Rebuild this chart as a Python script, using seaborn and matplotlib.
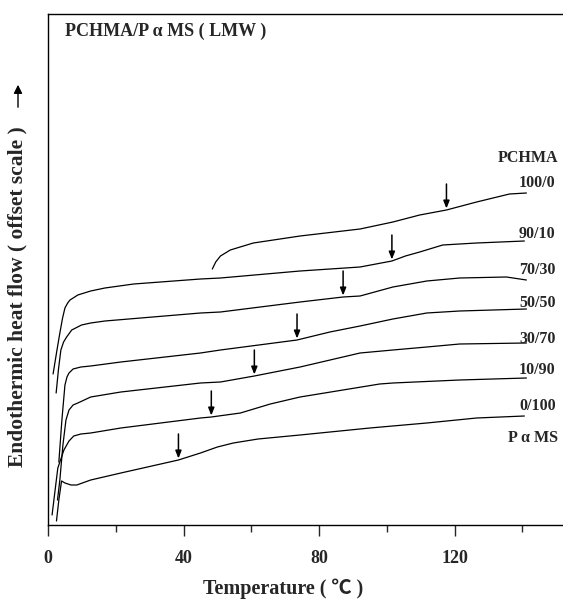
import numpy as np
import pandas as pd
import matplotlib
matplotlib.use("Agg")
import matplotlib.pyplot as plt
import seaborn as sns

# ---- data (y is an arbitrary offset heat-flow scale) ----
blend_names = ["100/0", "90/10", "70/30", "50/50", "30/70", "10/90", "0/100"]

T_100_0 = [48.5, 49.5, 50.9, 53.8, 60.6, 74.4, 92.1, 101.8, 109.7, 117.6, 126.5, 136.2, 141.2]
H_100_0 = [25.6, 26.3, 26.9, 27.5, 28.2, 28.9, 29.6, 30.3, 31.0, 31.5, 32.3, 33.1, 33.2]

T_90_10 = [1.5, 2.6, 3.5, 4.3, 5.0, 5.8, 6.5, 8.8, 12.6, 16.8, 25.3, 45.0, 50.9, 74.4, 92.1, 101.5, 105.5, 109.7, 116.5, 126.5, 140.6]
H_90_10 = [15.1, 17.4, 19.2, 20.7, 21.7, 22.2, 22.5, 23.0, 23.4, 23.7, 24.1, 24.6, 24.7, 25.4, 25.8, 26.4, 26.9, 27.3, 28.0, 28.2, 28.4]

T_70_30 = [2.4, 3.1, 3.8, 4.6, 5.5, 7.0, 9.9, 12.6, 16.8, 45.0, 50.9, 74.4, 87.1, 92.1, 101.8, 111.8, 121.5, 135.3, 141.2]
H_70_30 = [13.2, 15.6, 17.5, 18.3, 18.8, 19.5, 20.0, 20.2, 20.4, 21.2, 21.3, 22.3, 22.8, 22.9, 23.8, 24.4, 24.7, 24.8, 24.5]

T_50_50 = [3.2, 4.1, 5.0, 5.6, 6.2, 7.4, 9.7, 12.6, 21.5, 45.0, 50.9, 73.5, 83.2, 92.1, 101.8, 111.8, 121.5, 141.2]
H_50_50 = [6.3, 10.5, 14.0, 14.8, 15.2, 15.6, 15.8, 15.9, 16.3, 17.2, 17.5, 18.5, 19.3, 19.9, 20.6, 21.2, 21.4, 21.6]

T_30_70 = [2.8, 3.5, 4.4, 5.3, 6.2, 7.4, 8.8, 12.6, 21.5, 45.0, 50.9, 60.9, 74.4, 92.1, 101.8, 111.8, 121.5, 141.2]
H_30_70 = [2.5, 4.5, 8.0, 10.5, 11.5, 12.0, 12.2, 12.8, 13.3, 14.2, 14.3, 14.9, 15.8, 17.2, 17.5, 17.8, 18.1, 18.2]

T_10_90 = [1.2, 2.1, 2.9, 4.7, 6.2, 7.6, 9.7, 12.6, 21.5, 45.0, 48.2, 56.8, 65.6, 74.4, 97.9, 101.8, 121.5, 141.2]
H_10_90 = [1.0, 3.5, 5.7, 7.5, 8.4, 8.9, 9.1, 9.2, 9.7, 10.7, 10.8, 11.2, 12.1, 12.8, 14.1, 14.2, 14.5, 14.7]

T_0_100 = [2.5, 3.2, 4.0, 5.0, 6.8, 8.5, 12.6, 21.5, 38.5, 45.0, 50.0, 54.7, 62.0, 74.4, 95.0, 111.8, 126.5, 140.6]
H_0_100 = [0.4, 2.5, 4.4, 4.2, 4.0, 4.0, 4.5, 5.2, 6.5, 7.2, 7.8, 8.2, 8.6, 9.0, 9.7, 10.2, 10.7, 10.9]

# glass-transition arrows (temperature, heat-flow value at the arrow tip)
tg_T = [117.6, 101.5, 87.1, 73.5, 60.9, 48.2, 38.5]
tg_H = [31.5, 26.4, 22.8, 18.5, 14.9, 10.8, 6.5]

x_ticks = [0, 40, 80, 120]
x_minor = [20, 60, 100, 140]

curves_T = [T_100_0, T_90_10, T_70_30, T_50_50, T_30_70, T_10_90, T_0_100]
curves_H = [H_100_0, H_90_10, H_70_30, H_50_50, H_30_70, H_10_90, H_0_100]

rows = []
for name, ts, hs in zip(blend_names, curves_T, curves_H):
    for i, (t, h) in enumerate(zip(ts, hs)):
        rows.append({"blend": name, "T": t, "H": h, "order": i})
df = pd.DataFrame(rows)

# ---- figure ----
sns.set_style("ticks")
serif = ["Liberation Serif", "Noto Sans CJK JP", "DejaVu Sans"]
plt.rcParams["font.family"] = serif
plt.rcParams["font.weight"] = "bold"

fig = plt.figure(figsize=(5.63, 6.05), dpi=100)
ax = fig.add_axes([48 / 563, 80 / 605, 515 / 563, 511 / 605])

sns.lineplot(data=df, x="T", y="H", units="blend", estimator=None, sort=False,
             color="black", linewidth=0.9, ax=ax, legend=False)

for t, h in zip(tg_T, tg_H):
    ax.annotate("", xy=(t, h + 0.15), xytext=(t, h + 2.6),
                arrowprops=dict(arrowstyle="-|>,head_length=0.45,head_width=0.18",
                                color="black", lw=1.1, shrinkA=0, shrinkB=0))

ax.set_xlim(0, 152)
ax.set_ylim(0, 51.1)
ax.set_xticks(x_ticks)
ax.set_xticks(x_minor, minor=True)
ax.set_yticks([])
ax.tick_params(axis="x", which="major", direction="out", length=8, width=1, pad=10,
               labelsize=13)
ax.tick_params(axis="x", which="minor", direction="out", length=5, width=1)
for lab in ax.get_xticklabels():
    lab.set_fontweight("bold")
    lab.set_family(serif)

for side in ["left", "bottom", "top"]:
    ax.spines[side].set_linewidth(1.0)
    ax.spines[side].set_color("black")
ax.spines["right"].set_visible(False)

ax.set_xlabel("Temperature ( ℃ )", fontsize=14.5, fontweight="bold", family=serif)
ax.xaxis.set_label_coords((283 - 48) / 515, (525 - 579) / 511)
ax.set_ylabel("Endothermic heat flow ( offset scale )", fontsize=15.5,
              fontweight="bold", family=serif)
ax.yaxis.set_label_coords((27 - 48) / 515, (525 - 297) / 511)

# y-axis direction arrow
fig.add_artist(matplotlib.patches.FancyArrowPatch(
    (18 / 563, 1 - 110 / 605), (18 / 563, 1 - 82 / 605),
    transform=fig.transFigure, arrowstyle="-|>,head_length=5,head_width=2.5",
    color="black", lw=1.0))

ax.text((65 - 48) / 515, (525 - 31) / 511, "PCHMA/P α MS ( LMW )",
        transform=ax.transAxes, ha="left", va="center", fontsize=13,
        fontweight="bold", family=serif)

label_y = [34.2, 29.1, 25.5, 22.2, 18.6, 15.5, 11.9]
for name, y in zip(blend_names, label_y):
    ax.text(149.8, y, name, ha="right", va="center", fontsize=11.5,
            fontweight="bold", family=serif)
ax.text(150.5, 36.7, "PCHMA", ha="right", va="center", fontsize=11.5,
        fontweight="bold", family=serif)
ax.text(150.5, 8.7, "P α MS", ha="right", va="center", fontsize=11.5,
        fontweight="bold", family=serif)

fig.savefig("out.png", dpi=100)
